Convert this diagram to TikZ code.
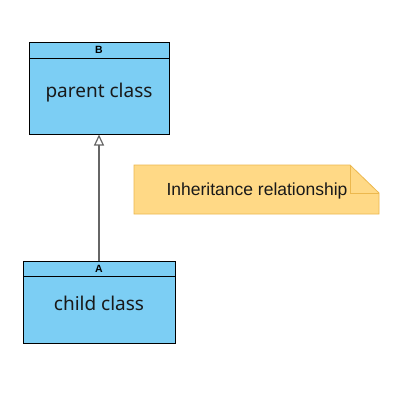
\documentclass[tikz,border=0pt]{standalone}
\usepackage{fontspec}
\setmainfont{Noto Sans}
\newfontfamily\notefont{Liberation Sans}
\newfontfamily\headfont{Liberation Sans}
\usetikzlibrary{arrows.meta}
\definecolor{classfill}{RGB}{124,206,244}
\definecolor{notefill}{RGB}{255,217,134}
\definecolor{notedraw}{RGB}{236,184,78}
\definecolor{linkgray}{RGB}{102,102,102}
\tikzset{
  classbox/.style={draw=black, line width=1pt, fill=classfill},
  classhead/.style={font=\headfont\bfseries\fontsize{10.5}{12}\selectfont, text=black},
  classname/.style={font=\fontsize{19}{22}\selectfont, text=black!90},
  inherit/.style={draw=linkgray, line width=1.2pt, -{Triangle[open, length=11pt, width=10pt, fill=white]}},
}
\begin{document}
\begin{tikzpicture}[x=1pt, y=-1pt]
  \useasboundingbox[fill=white] (0,0) rectangle (399,394);

  % class B
  \path[classbox] (29,42) rectangle (169,134);
  \draw[line width=1pt] (29,58) -- (169,58);
  \node[classhead] (bhead) at (99,50) {B};
  \node[classname] (bname) at (99,93) {parent class};
  \coordinate (btop) at (99,134.5);

  % class A
  \path[classbox] (23,261) rectangle (175,343);
  \draw[line width=1pt] (23,276) -- (175,276);
  \node[classhead] (ahead) at (99,268.5) {A};
  \node[classname] (aname) at (99,303.5) {child class};
  \coordinate (atop) at (99,260.5);

  % generalisation arrow
  \draw[inherit] (atop) -- (btop);

  % note
  \path[draw=notedraw, fill=notefill, line width=0.8pt]
    (134,165) -- (350,165) -- (379,193) -- (379,214) -- (134,214) -- cycle;
  \draw[notedraw, line width=0.8pt] (350,165) -- (350,193) -- (379,193);
  \node[font=\notefont\fontsize{17.5}{20}\selectfont, text=black!90] (note) at (257,191) {Inheritance relationship};
\end{tikzpicture}
\end{document}
